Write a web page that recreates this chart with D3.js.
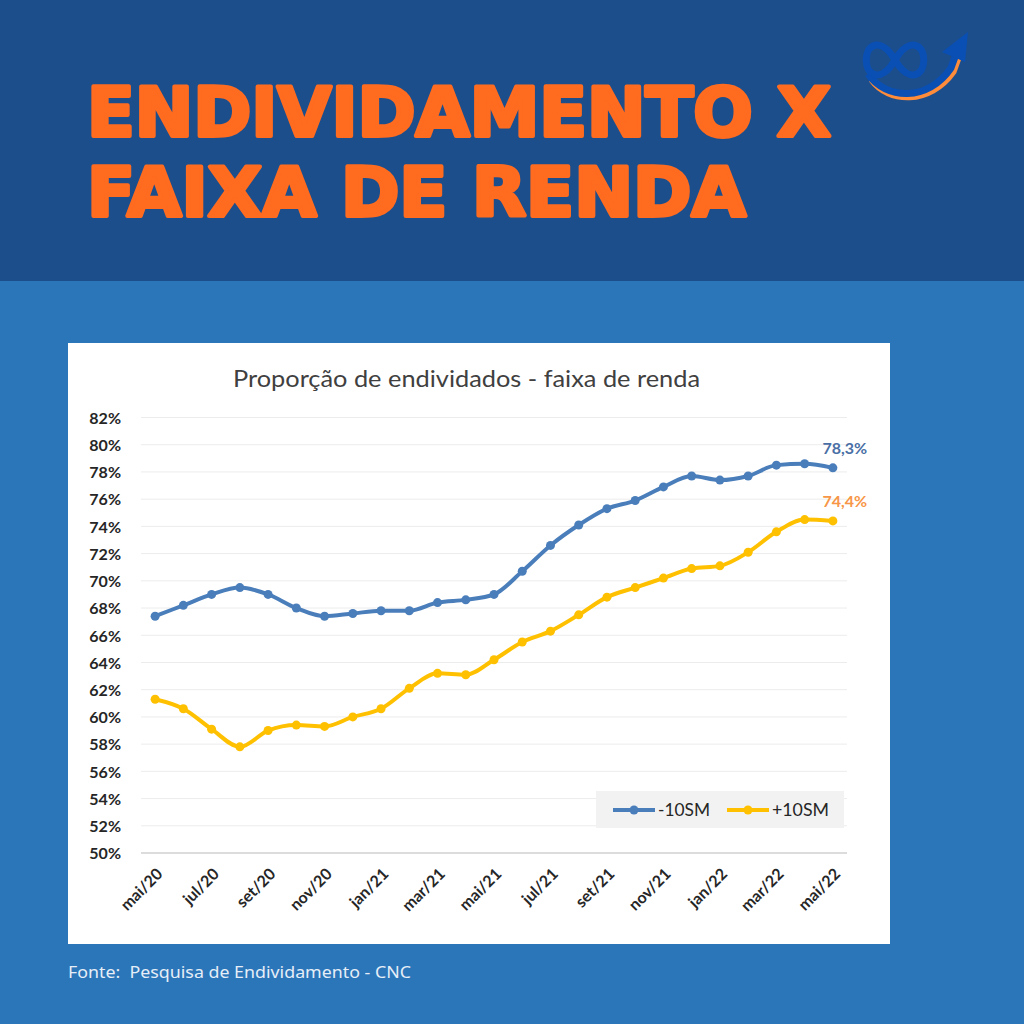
<!DOCTYPE html>
<html><head><meta charset="utf-8">
<script src="https://cdn.jsdelivr.net/npm/d3@7"></script>
<style>html,body{margin:0;padding:0;background:#2b75b9;}svg{display:block;}</style>
</head><body>
<script>
const months = ["mai/20","jun/20","jul/20","ago/20","set/20","out/20","nov/20","dez/20","jan/21","fev/21","mar/21","abr/21","mai/21","jun/21","jul/21","ago/21","set/21","out/21","nov/21","dez/21","jan/22","fev/22","mar/22","abr/22","mai/22"];
const menos10SM = [67.4,68.2,69.0,69.5,69.0,68.0,67.4,67.6,67.8,67.8,68.4,68.6,69.0,70.7,72.6,74.1,75.3,75.9,76.9,77.7,77.4,77.7,78.5,78.6,78.3];
const mais10SM = [61.3,60.6,59.1,57.8,59.0,59.4,59.3,60.0,60.6,62.1,63.2,63.1,64.2,65.5,66.3,67.5,68.8,69.5,70.2,70.9,71.1,72.1,73.6,74.5,74.4];
const yTicks = [50,52,54,56,58,60,62,64,66,68,70,72,74,76,78,80,82];
const seriesNames = ["-10SM","+10SM"];
const lastLabels = ["78,3%","74,4%"];

const W = 1024, H = 1024;
const svg = d3.select("body").append("svg").attr("width", W).attr("height", H);

// backgrounds
svg.append("rect").attr("x",0).attr("y",0).attr("width",W).attr("height",H).attr("fill","#2b75b9");
svg.append("rect").attr("x",0).attr("y",0).attr("width",W).attr("height",281).attr("fill","#1c4e8c");

// headline
const hl = svg.append("g").attr("font-family","'DejaVu Sans', sans-serif").attr("font-weight","900")
  .attr("fill","#ff6b1f").attr("stroke","#ff6b1f").attr("stroke-width",4).attr("stroke-linejoin","round");
hl.append("text").attr("x",87).attr("y",136).attr("font-size",68).attr("textLength",744).attr("lengthAdjust","spacingAndGlyphs").text("ENDIVIDAMENTO X");
hl.append("text").attr("x",87).attr("y",216).attr("font-size",68).attr("textLength",659).attr("lengthAdjust","spacingAndGlyphs").text("FAIXA DE RENDA");

// logo
const logo = svg.append("g");
logo.append("path").attr("d","M871,80 C888,104 930,106 954,72 L962,50").attr("fill","none").attr("stroke","#ff8c3a").attr("stroke-width",5);
logo.append("path").attr("d","M868,74 C886,100 928,102 951,68 L959,46").attr("fill","none").attr("stroke","#0a4fb3").attr("stroke-width",7);
logo.append("path").attr("d","M895,60 C888,48 880,43 873,46 C864,50 864,70 873,74 C880,77 888,72 895,60 C902,48 910,43 917,46 C926,50 926,70 917,74 C910,77 902,72 895,60 Z")
  .attr("fill","none").attr("stroke","#0a4fb3").attr("stroke-width",7);
logo.append("path").attr("d","M942,52 L968,32 L965,62 Z").attr("fill","#0a4fb3");

// chart panel
svg.append("rect").attr("x",68).attr("y",343).attr("width",822).attr("height",601).attr("fill","#ffffff");

svg.append("text").attr("x",233).attr("y",387)
  .attr("font-family","Lato, 'Open Sans', sans-serif").attr("font-size",24).attr("fill","#404040")
  .attr("textLength",467).attr("lengthAdjust","spacingAndGlyphs")
  .text("Proporção de endividados - faixa de renda");

const x = d3.scalePoint().domain(months).range([141,847]).padding(0.5);
const y = d3.scaleLinear().domain([50,82]).range([853,417.5]);

// grid
svg.append("g").selectAll("line").data(yTicks.filter(d=>d>50)).join("line")
  .attr("x1",141).attr("x2",847).attr("y1",d=>y(d)).attr("y2",d=>y(d))
  .attr("stroke","#ececec").attr("stroke-width",1);
svg.append("line").attr("x1",141).attr("x2",847).attr("y1",y(50)).attr("y2",y(50)).attr("stroke","#d0d0d0").attr("stroke-width",1.5);

// y axis
const yAxis = svg.append("g").attr("transform","translate(121,0)")
  .call(d3.axisLeft(y).tickValues(yTicks).tickSize(0).tickPadding(0).tickFormat(d=>d+"%"));
yAxis.select(".domain").remove();
yAxis.selectAll("text").attr("font-family","Lato, 'Open Sans', sans-serif").attr("font-weight","bold").attr("font-size",16).attr("fill","#262626").attr("dy","0.36em");

// x axis
const xLabels = months.filter((d,i)=>i%2===0);
const xAxis = svg.append("g").attr("transform",`translate(0,${y(50)})`)
  .call(d3.axisBottom(x).tickValues(xLabels).tickSize(0).tickPadding(0));
xAxis.select(".domain").remove();
xAxis.selectAll("text").attr("font-family","Lato, 'Open Sans', sans-serif").attr("font-weight","bold").attr("font-size",16).attr("fill","#262626")
  .attr("text-anchor","end").attr("dy",0).attr("transform","translate(8,22) rotate(-45)");

// lines
const series = [
  {name: seriesNames[0], vals: menos10SM, color:"#4a7ebb", label: lastLabels[0], lcolor:"#4a6fa5", lx:658, tl:52},
  {name: seriesNames[1], vals: mais10SM, color:"#ffc000", label: lastLabels[1], lcolor:"#f79646", lx:772, tl:57}
];
const line = d3.line().x((d,i)=>x(months[i])).y(d=>y(d)).curve(d3.curveMonotoneX);
series.forEach(s=>{
  svg.append("path").datum(s.vals).attr("d",line).attr("fill","none").attr("stroke",s.color).attr("stroke-width",4).attr("stroke-linejoin","round");
  svg.append("g").selectAll("circle").data(s.vals).join("circle")
    .attr("cx",(d,i)=>x(months[i])).attr("cy",d=>y(d)).attr("r",4.5).attr("fill",s.color);
  const last = s.vals.length-1;
  svg.append("text").attr("x",x(months[last])+12).attr("y",y(s.vals[last])-14).attr("text-anchor","middle")
    .attr("font-family","Lato, 'Open Sans', sans-serif").attr("font-weight","bold").attr("font-size",16).attr("fill",s.lcolor).text(s.label);
});

// legend
const lg = svg.append("g");
lg.append("rect").attr("x",596).attr("y",791).attr("width",248).attr("height",37).attr("fill","#f2f2f2");
series.forEach((s,i)=>{
  const lx = s.lx - 45;
  lg.append("line").attr("x1",lx).attr("x2",lx+42).attr("y1",810).attr("y2",810).attr("stroke",s.color).attr("stroke-width",4);
  lg.append("circle").attr("cx",lx+21).attr("cy",810).attr("r",4.5).attr("fill",s.color);
  lg.append("text").attr("x",s.lx).attr("y",816).attr("font-family","Lato, 'Open Sans', sans-serif").attr("font-size",17.5).attr("fill","#262626")
    .attr("textLength",s.tl).attr("lengthAdjust","spacingAndGlyphs").text(s.name);
});

// footer
svg.append("text").attr("x",68).attr("y",978).attr("font-family","'Noto Sans', Lato, sans-serif").attr("font-size",17).attr("fill","#e6eef7")
  .attr("xml:space","preserve").attr("textLength",343).attr("lengthAdjust","spacingAndGlyphs").text("Fonte:  Pesquisa de Endividamento - CNC");
</script>
</body></html>
